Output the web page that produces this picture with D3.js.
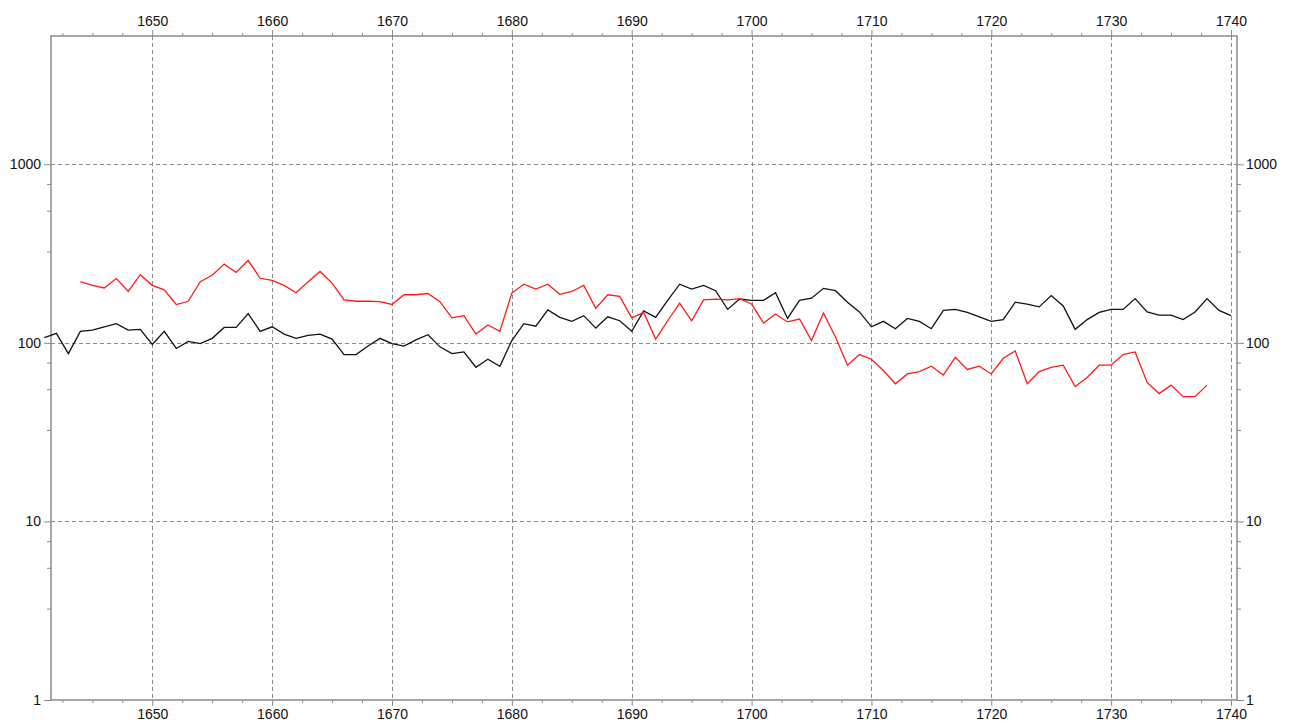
<!DOCTYPE html>
<html><head><meta charset="utf-8">
<script src="https://cdn.jsdelivr.net/npm/d3@7"></script>
<style>
html,body{margin:0;padding:0;background:#fff;}
svg{display:block;}
text{font-family:"Liberation Sans",Arial,sans-serif;font-size:14px;fill:#111;}
</style></head>
<body>
<svg id="chart" width="1290" height="722"></svg>
<script>
// ---- data ----
const blackStartYear = 1641;
const blackValues = [107,113,87,116,118,123,128,118,119,98,116,93,102,99,106,122,122,146,116,123,112,106,110,112,105,86,86,96,106,99,96,104,111,95,87,89,73,81,74,103,128,124,153,139,132,142,121,140,133,116,151,139,173,213,200,210,196,154,176,173,173,191,137,173,178,202,196,169,149,123,132,120,137,132,120,152,154,148,140,132,135,169,165,159,184,161,119,135,148,154,154,177,149,143,143,135,149,177,152,142];
const redStartYear = 1644;
const redValues = [220,210,203,229,194,241,210,198,164,171,220,239,276,248,290,230,224,210,191,220,251,216,174,171,171,170,164,186,186,189,170,138,142,112,126,116,190,213,200,213,187,194,210,156,186,182,138,148,105,133,167,133,174,176,174,177,165,129,145,131,136,103,147,108,75,86,81,70,59,67,69,74,66,83,71,74,67,82,90,59,69,73,75,57,64,75,75,86,89,60,52,58,50,50,58];
const xDomain = [1641.55, 1740.5];
const yDomain = [1, 5230];
const xMajorTicks = [1650,1660,1670,1680,1690,1700,1710,1720,1730,1740];
const xMinorStep = 2.5;
const yMajorTicks = [1,10,100,1000];
const yMinorFactors = [3.25,5.5,7.75];

const blackData = blackValues.map((v,i)=>({year:blackStartYear+i, value:v}));
const redData = redValues.map((v,i)=>({year:redStartYear+i, value:v}));

const L=51, R=1237, T=36, B=700;
const svg = d3.select("#chart");
const x = d3.scaleLinear().domain(xDomain).range([L,R]);
const y = d3.scaleLog().domain(yDomain).range([B,T]);

const gridColor="#8a8a8a", axisColor="#8a8a8a";

// gridlines
const grid = svg.append("g");
grid.selectAll("line.vx").data(xMajorTicks).enter().append("line")
  .attr("x1",d=>Math.round(x(d))+0.5).attr("x2",d=>Math.round(x(d))+0.5)
  .attr("y1",T).attr("y2",B)
  .attr("stroke",gridColor).attr("stroke-width",1).attr("stroke-dasharray","4,3");
grid.selectAll("line.hy").data(yMajorTicks.filter(d=>d>1)).enter().append("line")
  .attr("x1",L).attr("x2",R)
  .attr("y1",d=>Math.round(y(d))+0.5).attr("y2",d=>Math.round(y(d))+0.5)
  .attr("stroke",gridColor).attr("stroke-width",1).attr("stroke-dasharray","4,3");

// minor ticks lists
const xMinor = d3.range(xDomain[0], xDomain[1], 0.01).length ? (()=>{const a=[];for(let t=Math.ceil(xDomain[0]/xMinorStep)*xMinorStep;t<=xDomain[1];t+=xMinorStep){if(!xMajorTicks.includes(t))a.push(t);}return a;})() : [];
const yMinor = [];
yMajorTicks.slice(0,3).forEach(d=>yMinorFactors.forEach(f=>yMinor.push(d*f)));

// axes via d3
const fmt = d3.format("d");
const xTop = d3.axisTop(x).tickValues(xMajorTicks).tickFormat(fmt).tickSize(6).tickPadding(4);
const xBot = d3.axisBottom(x).tickValues(xMajorTicks).tickFormat(fmt).tickSize(6).tickPadding(3);
const yLeft = d3.axisLeft(y).tickValues(yMajorTicks).tickFormat(fmt).tickSize(7).tickPadding(3);
const yRight = d3.axisRight(y).tickValues(yMajorTicks).tickFormat(fmt).tickSize(7).tickPadding(2);

function styleAxis(g){
  g.select(".domain").remove();
  g.selectAll(".tick line").attr("stroke",axisColor).attr("stroke-width",1);
  g.selectAll(".tick text").attr("fill","#111").style("font-family","'Liberation Sans',Arial,sans-serif").style("font-size","14px");
}
svg.append("g").attr("transform",`translate(0,${T})`).call(xTop).call(styleAxis);
svg.append("g").attr("transform",`translate(0,${B})`).call(xBot).call(styleAxis);
svg.append("g").attr("transform",`translate(${L},0)`).call(yLeft).call(styleAxis);
svg.append("g").attr("transform",`translate(${R},0)`).call(yRight).call(styleAxis);

// minor ticks
svg.append("g").attr("transform",`translate(0,${T})`).call(d3.axisTop(x).tickValues(xMinor).tickFormat("").tickSize(3)).call(styleAxis);
svg.append("g").attr("transform",`translate(0,${B})`).call(d3.axisBottom(x).tickValues(xMinor).tickFormat("").tickSize(3)).call(styleAxis);
svg.append("g").attr("transform",`translate(${L},0)`).call(d3.axisLeft(y).tickValues(yMinor).tickFormat("").tickSize(4)).call(styleAxis);
svg.append("g").attr("transform",`translate(${R},0)`).call(d3.axisRight(y).tickValues(yMinor).tickFormat("").tickSize(4)).call(styleAxis);

// frame
svg.append("rect").attr("x",L).attr("y",T).attr("width",R-L).attr("height",B-T)
  .attr("fill","none").attr("stroke",axisColor).attr("stroke-width",1.5);

// lines
const line = d3.line().x(d=>x(d.year)).y(d=>y(d.value));
svg.append("path").datum(blackData).attr("d",line).attr("fill","none").attr("stroke","#111").attr("stroke-width",1.3);
svg.append("path").datum(redData).attr("d",line).attr("fill","none").attr("stroke","#ff1a1a").attr("stroke-width",1.3);
</script>
</body></html>
